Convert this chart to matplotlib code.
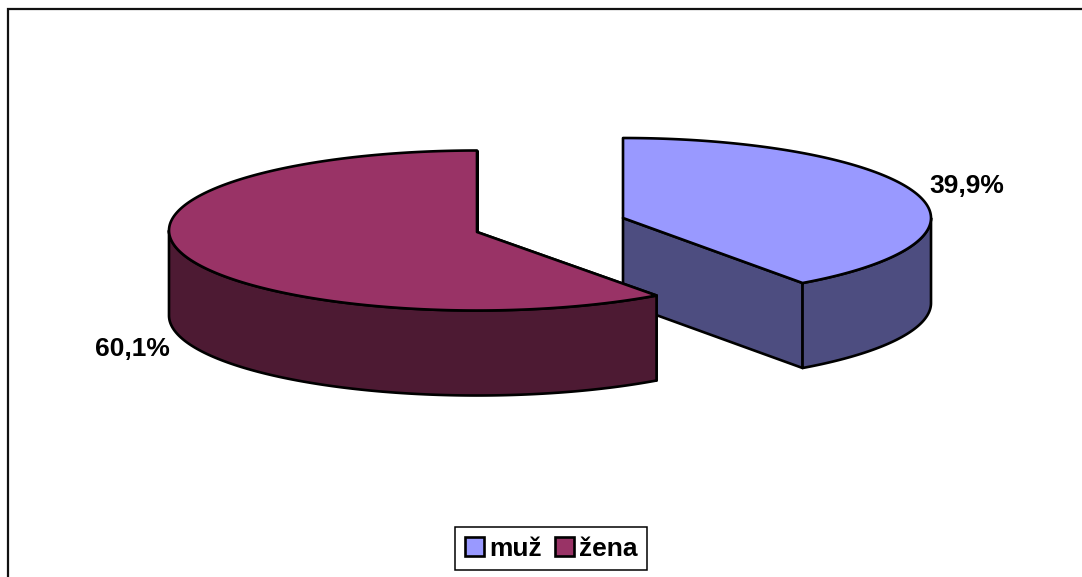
import numpy as np
import matplotlib
matplotlib.use("Agg")
import matplotlib.pyplot as plt
from matplotlib.patches import Polygon, Patch

categories = ["muž", "žena"]
values = [39.9, 60.1]
labels = ["39,9%", "60,1%"]
top_colors = ["#9999FF", "#993366"]
side_colors = ["#4D4D80", "#4D1A33"]

centers = [(623, 218), (477, 230.5)]
hub_offset = [0, 1.5]
RX, RY, DEPTH = 308, 80, 85
LW = 1.9
VIEW_SKEW = 0.7  # slight perspective shift of the split line, degrees

plt.rcParams["font.family"] = ["Liberation Sans", "DejaVu Sans"]
fig = plt.figure(figsize=(10.82, 5.77), dpi=100)
ax = fig.add_axes([0, 0, 1, 1])
ax.set_xlim(0, 1082)
ax.set_ylim(577, 0)
ax.axis("off")


def arc(c, a0, a1):
    t = np.radians(np.linspace(a0, a1, 300))
    return np.column_stack([c[0] + RX * np.sin(t), c[1] - RY * np.cos(t)])


def add(pts, color, z):
    ax.add_patch(Polygon(pts, closed=True, facecolor=color, edgecolor="black",
                         linewidth=LW, joinstyle="round", zorder=z))


def slice3d(c, hub, a0, a1, top, side, z):
    down = np.array([0, DEPTH])
    cen = np.array([c[0], c[1] + hub], dtype=float)
    # cut faces
    for a in (a0, a1):
        p = arc(c, a, a)[0]
        add([cen, p, p + down, cen + down], side, z)
    # outer wall: the part of the rim facing the viewer
    lo, hi = max(a0, 90), min(a1, 270)
    if hi > lo:
        rim = arc(c, lo, hi)
        add(np.vstack([rim, (rim + down)[::-1]]), side, z + 0.1)
    # top
    add(np.vstack([[cen], arc(c, a0, a1)]), top, z + 0.2)


fractions = np.array(values) / sum(values) * 360
split = fractions[0] + VIEW_SKEW
slice3d(centers[0], hub_offset[0], 0, split, top_colors[0], side_colors[0], 2)
slice3d(centers[1], hub_offset[1], split, 360, top_colors[1], side_colors[1], 3)

# chart frame (cropped on the right and bottom)
ax.plot([8, 8, 1082], [577, 9, 9], color="#111111", lw=1.6, solid_joinstyle="miter", zorder=1)

ax.text(929, 186, labels[0], fontsize=19, fontweight="bold", ha="left", va="center", zorder=6)
ax.text(95, 349, labels[1], fontsize=19, fontweight="bold", ha="left", va="center", zorder=6)

handles = [Patch(facecolor=top_colors[i], edgecolor="black", linewidth=1.9, label=categories[i])
           for i in range(2)]
leg = ax.legend(handles=handles, loc="center", bbox_to_anchor=(551, 548.5),
                bbox_transform=ax.transData, ncol=2,
                prop={"size": 19, "weight": "bold"}, fancybox=False,
                framealpha=1, edgecolor="black", handlelength=0.72, handleheight=0.72,
                handletextpad=0.2, columnspacing=0.5, borderpad=0.36, borderaxespad=0)
leg.get_frame().set_linewidth(1.1)
leg.set_zorder(7)

fig.savefig("out.png", dpi=100, facecolor="white")
